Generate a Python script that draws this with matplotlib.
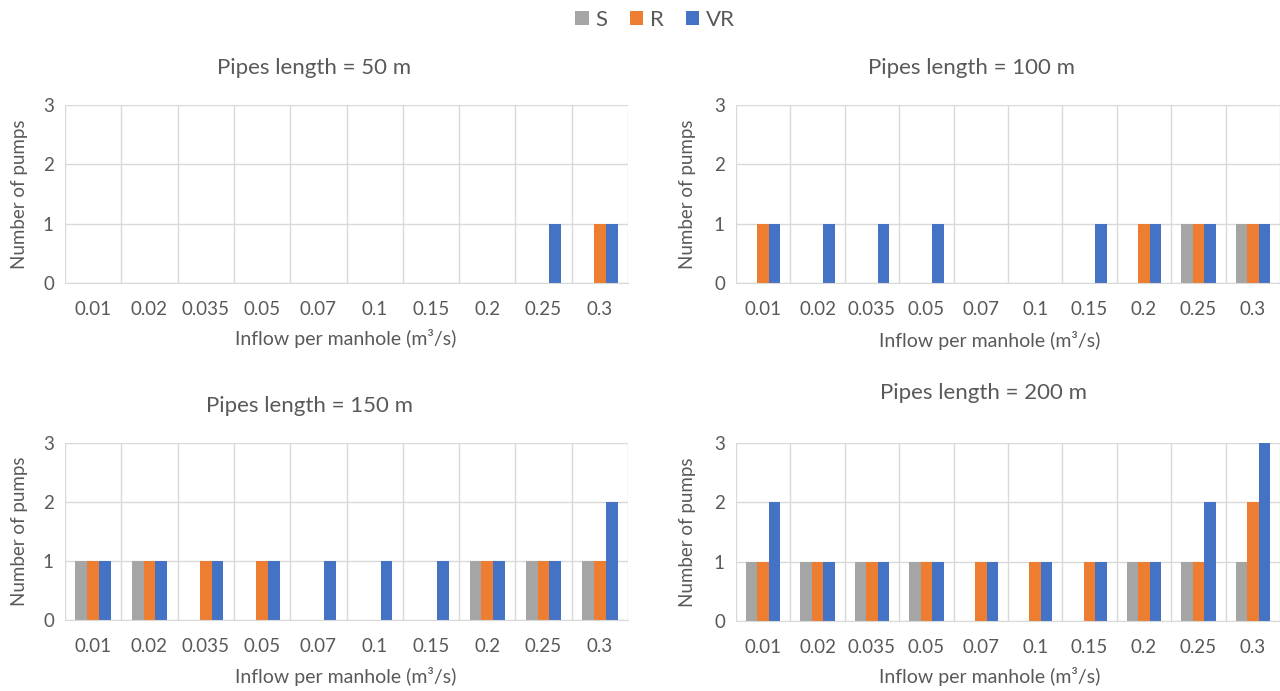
import matplotlib
matplotlib.use("Agg")
import matplotlib.pyplot as plt
import numpy as np
from matplotlib.patches import Patch

plt.rcParams['font.family'] = ['Lato', 'DejaVu Sans']

categories = ["0.01", "0.02", "0.035", "0.05", "0.07", "0.1", "0.15", "0.2", "0.25", "0.3"]
series_names = ["S", "R", "VR"]
colors = ["#A5A5A5", "#ED7D31", "#4472C4"]

titles = ["Pipes length = 50 m", "Pipes length = 100 m",
          "Pipes length = 150 m", "Pipes length = 200 m"]

s_50 = [0, 0, 0, 0, 0, 0, 0, 0, 0, 0]
r_50 = [0, 0, 0, 0, 0, 0, 0, 0, 0, 1]
vr_50 = [0, 0, 0, 0, 0, 0, 0, 0, 1, 1]

s_100 = [0, 0, 0, 0, 0, 0, 0, 0, 1, 1]
r_100 = [1, 0, 0, 0, 0, 0, 0, 1, 1, 1]
vr_100 = [1, 1, 1, 1, 0, 0, 1, 1, 1, 1]

s_150 = [1, 1, 0, 0, 0, 0, 0, 1, 1, 1]
r_150 = [1, 1, 1, 1, 0, 0, 0, 1, 1, 1]
vr_150 = [1, 1, 1, 1, 1, 1, 1, 1, 1, 2]

s_200 = [1, 1, 1, 1, 0, 0, 0, 1, 1, 1]
r_200 = [1, 1, 1, 1, 1, 1, 1, 1, 1, 2]
vr_200 = [2, 1, 1, 1, 1, 1, 1, 1, 2, 3]

yticks = [0, 1, 2, 3]
xlabel = "Inflow per manhole (m³/s)"
ylabel = "Number of pumps"

panel_data = [
    (s_50, r_50, vr_50),
    (s_100, r_100, vr_100),
    (s_150, r_150, vr_150),
    (s_200, r_200, vr_200),
]

W, H = 1280, 691
fig = plt.figure(figsize=(W / 100, H / 100), dpi=100)

# axes boxes in pixels: (left, top, right, bottom)
boxes = [(65, 105, 628, 283), (736, 105, 1280, 283),
         (65, 443, 628, 620), (736, 443, 1280, 621)]
title_pos = [(314, 68), (971, 68), (310, 406), (984, 393)]
xlabel_pos = [(346, 339), (990, 340), (346, 677), (990, 677)]
ylabel_x = [20, 688, 20, 688]

txt = "#595959"
grid_c = "#D9D9D9"
bw = 0.21
x = np.arange(len(categories))

for i, (box, data) in enumerate(zip(boxes, panel_data)):
    l, t, r, b = box
    ax = fig.add_axes([l / W, 1 - b / H, (r - l) / W, (b - t) / H])
    for j, (vals, c) in enumerate(zip(data, colors)):
        ax.bar(x + (j - 1) * bw, vals, width=bw, color=c, zorder=3, linewidth=0)
    ax.set_xlim(-0.5, len(categories) - 0.5)
    ax.set_ylim(0, 3)
    ax.set_yticks(yticks)
    ax.set_xticks(x)
    ax.set_xticklabels(categories)
    ax.set_xticks(np.arange(len(categories) + 1) - 0.5, minor=True)
    ax.grid(axis='y', which='major', color=grid_c, linewidth=1, zorder=0)
    ax.grid(axis='x', which='minor', color=grid_c, linewidth=1, zorder=0)
    ax.tick_params(axis='both', which='both', length=0, labelsize=13.5, colors=txt)
    ax.tick_params(axis='x', pad=13)
    ax.tick_params(axis='y', pad=8)
    for sp in ['top', 'right', 'left']:
        ax.spines[sp].set_visible(False)
    ax.spines['bottom'].set_color(grid_c)
    ax.spines['bottom'].set_zorder(4)
    tx, ty = title_pos[i]
    fig.text(tx / W, 1 - ty / H, titles[i], ha='center', va='center', fontsize=16, color=txt)
    lx, ly = xlabel_pos[i]
    fig.text(lx / W, 1 - ly / H, xlabel, ha='center', va='center', fontsize=14, color=txt)
    fig.text(ylabel_x[i] / W, 1 - ((t + b) / 2) / H, ylabel, ha='center', va='center',
             rotation=90, fontsize=13.5, color=txt)

handles = [Patch(facecolor=c, edgecolor='none') for c in colors]
fig.legend(handles, series_names, loc='center', bbox_to_anchor=(655 / W, 1 - 20 / H),
           ncol=3, frameon=False, fontsize=16, labelcolor=txt, handlelength=0.6,
           handleheight=0.6, handletextpad=0.3, columnspacing=1.0)

fig.savefig("out.png", dpi=100, facecolor='white')
